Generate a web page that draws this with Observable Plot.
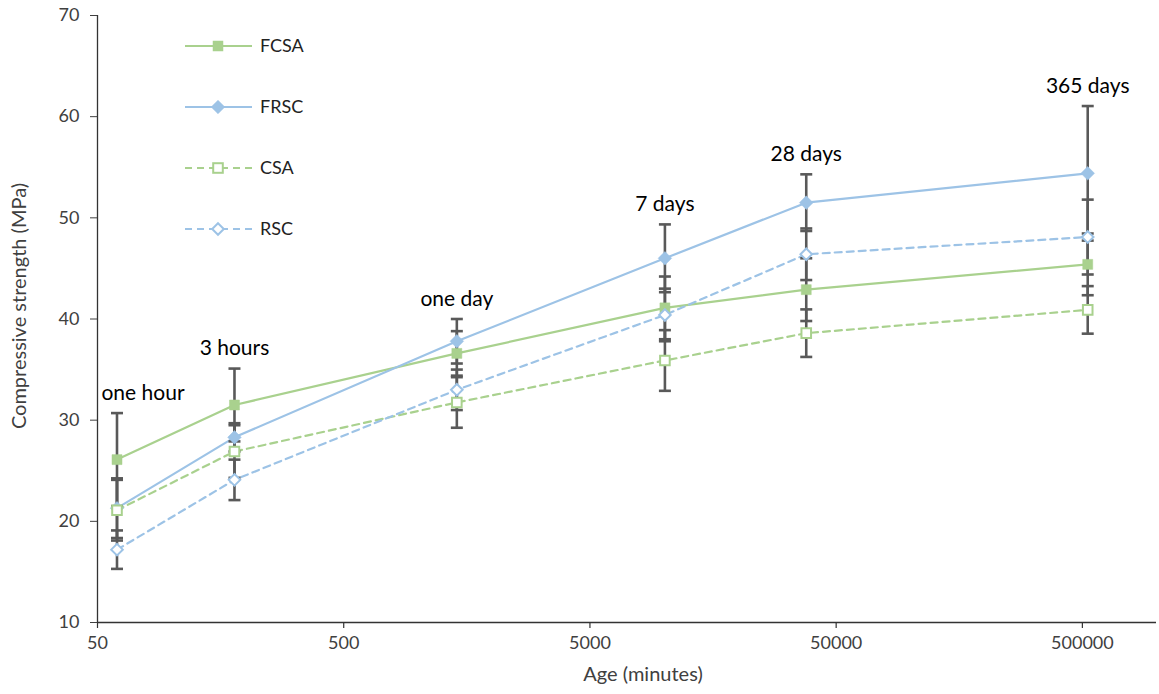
<!DOCTYPE html>
<html>
<head>
<meta charset="utf-8">
<script src="https://cdn.jsdelivr.net/npm/d3@7"></script>
<script src="https://cdn.jsdelivr.net/npm/@observablehq/plot@0.6"></script>
<style>
  html, body { margin: 0; padding: 0; background: #fff; }
  #wrap { position: relative; width: 1159px; height: 694px; font-family: Lato, "Open Sans", sans-serif; }
  #legend { position: absolute; left: 0; top: 0; }
</style>
</head>
<body>
<div id="wrap"></div>
<script>
// ---- Data ----
const ages = [60, 180, 1440, 10080, 37800, 525600];           // minutes
const ageLabels = ["one hour", "3 hours", "one day", "7 days", "28 days", "365 days"];
const seriesNames = ["FCSA", "FRSC", "CSA", "RSC"];

const fcsa    = [26.1, 31.5, 36.6, 41.1, 42.9, 45.4];
const fcsaErr = [4.6, 3.6, 2.2, 3.1, 3.1, 3.05];
const frsc    = [21.3, 28.3, 37.8, 46.0, 51.5, 54.4];
const frscErr = [2.95, 1.4, 2.2, 3.35, 2.8, 6.65];
const csa     = [21.1, 26.9, 31.75, 35.9, 38.6, 40.9];
const csaErr  = [3.0, 2.6, 2.5, 3.0, 2.35, 2.35];
const rsc     = [17.2, 24.1, 33.0, 40.4, 46.4, 48.1];
const rscErr  = [1.9, 2.0, 2.0, 2.6, 2.55, 3.7];

const xTicks = [50, 500, 5000, 50000, 500000];
const yTicks = [10, 20, 30, 40, 50, 60, 70];

// ---- Styles ----
const green = "#A9D18E", blue = "#9DC3E6", errColor = "#595959";
const style = {
  FCSA: {color: green, dash: null, fill: green, sym: "square", r: 5},
  FRSC: {color: blue, dash: null, fill: blue, sym: "diamond", r: 6.8},
  CSA:  {color: green, dash: "7,5", fill: "white", sym: "square", r: 4.8},
  RSC:  {color: blue, dash: "7,5", fill: "white", sym: "diamond", r: 5.8}
};

// custom symbols where r = half extent
const squareSym = {draw(ctx, size) { const h = Math.sqrt(size / Math.PI); ctx.rect(-h, -h, 2 * h, 2 * h); }};
const diamondSym = {draw(ctx, size) { const h = Math.sqrt(size / Math.PI); ctx.moveTo(0, -h); ctx.lineTo(h, 0); ctx.lineTo(0, h); ctx.lineTo(-h, 0); ctx.closePath(); }};
const capSym = {draw(ctx, size) { const h = Math.sqrt(size / Math.PI); ctx.moveTo(-h, 0); ctx.lineTo(h, 0); }};
const symOf = s => s === "square" ? squareSym : diamondSym;

// ---- Build table ----
const valuesBy = {FCSA: fcsa, FRSC: frsc, CSA: csa, RSC: rsc};
const errBy = {FCSA: fcsaErr, FRSC: frscErr, CSA: csaErr, RSC: rscErr};
const rows = seriesNames.flatMap(name => ages.map((a, i) => ({
  series: name, age: a, value: valuesBy[name][i], lo: valuesBy[name][i] - errBy[name][i], hi: valuesBy[name][i] + errBy[name][i]
})));
const labelRows = ages.map((a, i) => ({
  age: a, text: ageLabels[i],
  top: Math.max(...seriesNames.map(n => valuesBy[n][i] + errBy[n][i]))
}));

const font = "Lato, 'Open Sans', sans-serif";
const marks = [];
// axes lines
marks.push(Plot.ruleY([10], {stroke: "#333", strokeWidth: 1.3}));
marks.push(Plot.ruleX([50], {stroke: "#333", strokeWidth: 1.3}));
marks.push(Plot.axisY({ticks: yTicks, tickSize: 7, tickPadding: 11, fontSize: 18, color: "#404040", label: null}));
marks.push(Plot.ruleX(xTicks, {x: d => d, y1: 10, y2: 10, stroke: "#333", strokeWidth: 1.2, insetBottom: -6}));
marks.push(Plot.text(xTicks, {x: d => d, text: d => String(d), frameAnchor: "bottom", dy: 26, fontSize: 18, fill: "#404040"}));

// lines
for (const name of seriesNames) {
  const st = style[name];
  marks.push(Plot.line(rows.filter(d => d.series === name), {
    x: "age", y: "value", stroke: st.color, strokeWidth: 2.2, strokeDasharray: st.dash
  }));
}
// error bars
marks.push(Plot.ruleX(rows, {x: "age", y1: "lo", y2: "hi", stroke: errColor, strokeWidth: 2.6}));
marks.push(Plot.dot(rows, {x: "age", y: "lo", symbol: capSym, r: 6, stroke: errColor, strokeWidth: 2.6}));
marks.push(Plot.dot(rows, {x: "age", y: "hi", symbol: capSym, r: 6, stroke: errColor, strokeWidth: 2.6}));
// markers
for (const name of seriesNames) {
  const st = style[name];
  marks.push(Plot.dot(rows.filter(d => d.series === name), {
    x: "age", y: "value", symbol: symOf(st.sym), r: st.r,
    fill: st.fill, stroke: st.color, strokeWidth: st.fill === "white" ? 2 : 0.5
  }));
}
// age annotations
marks.push(Plot.text(labelRows.slice(0, 1), {x: "age", y: "top", text: "text", dy: -20, dx: 26, fontSize: 21, fill: "#000"}));
marks.push(Plot.text(labelRows.slice(1), {x: "age", y: "top", text: "text", dy: -20, fontSize: 21, fill: "#000"}));
// axis titles
marks.push(Plot.text(["Age (minutes)"], {frameAnchor: "bottom", textAnchor: "middle", dy: 58, dx: 16, fontSize: 20, fill: "#404040"}));
marks.push(Plot.text(["Compressive strength (MPa)"], {frameAnchor: "left", textAnchor: "middle", rotate: -90, dx: -78, dy: -13, fontSize: 20, fill: "#404040"}));

const chart = Plot.plot({
  width: 1159, height: 694,
  marginLeft: 97, marginRight: 3, marginTop: 15, marginBottom: 72,
  style: {fontFamily: font, background: "white"},
  x: {type: "log", domain: [50, 1000000], axis: null},
  y: {domain: [10, 70]},
  marks
});
const wrap = document.getElementById("wrap");
wrap.appendChild(chart);

// ---- Legend overlay ----
const lg = d3.select(wrap).append("svg").attr("id", "legend").attr("width", 1159).attr("height", 694)
  .style("pointer-events", "none");
seriesNames.forEach((name, i) => {
  const st = style[name];
  const g = lg.append("g").attr("transform", `translate(185, ${46 + i * 61})`);
  g.append("line").attr("x1", 0).attr("x2", 67).attr("y1", 0).attr("y2", 0)
    .attr("stroke", st.color).attr("stroke-width", 2.2).attr("stroke-dasharray", st.dash);
  const h = st.r;
  if (st.sym === "square") {
    g.append("rect").attr("x", 33 - h).attr("y", -h).attr("width", 2 * h).attr("height", 2 * h)
      .attr("fill", st.fill).attr("stroke", st.color).attr("stroke-width", st.fill === "white" ? 2 : 0.5);
  } else {
    g.append("path").attr("d", `M${33},${-h}L${33 + h},0L${33},${h}L${33 - h},0Z`)
      .attr("fill", st.fill).attr("stroke", st.color).attr("stroke-width", st.fill === "white" ? 2 : 0.5);
  }
  g.append("text").attr("x", 75).attr("y", 0).attr("dy", "0.35em").attr("font-size", 18)
    .attr("font-family", font).attr("fill", "#222").text(name);
});
</script>
</body>
</html>
